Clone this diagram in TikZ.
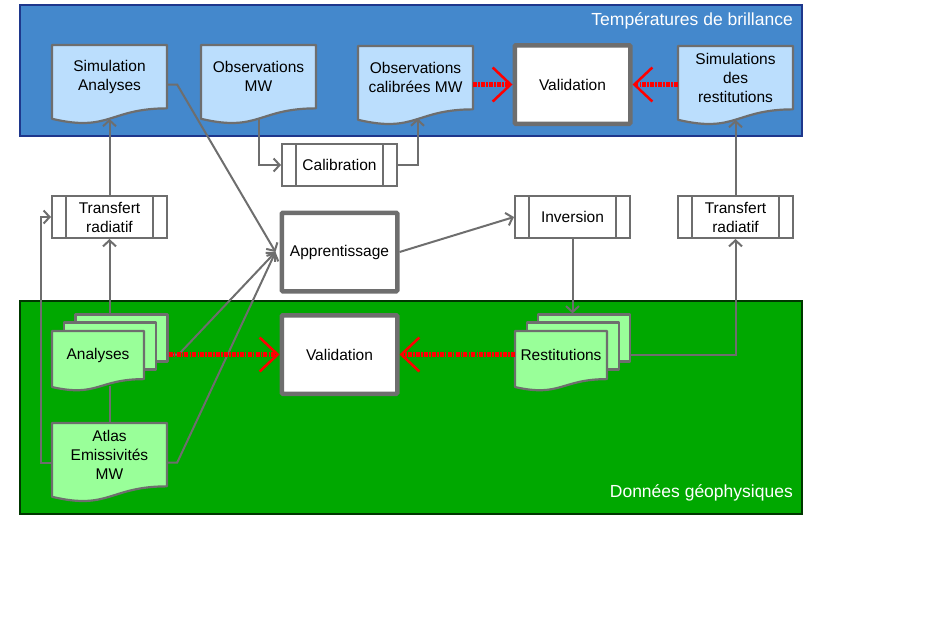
\documentclass[tikz,border=0pt]{standalone}
\usepackage{fontspec}
\setmainfont{Liberation Sans}
\usepackage{tikz}
\usetikzlibrary{positioning, arrows.meta, calc}
\definecolor{bandblue}{RGB}{68,136,204}
\definecolor{bandblueline}{RGB}{30,55,140}
\definecolor{bandgreen}{RGB}{0,168,0}
\definecolor{bandgreenline}{RGB}{0,55,0}
\definecolor{docblue}{RGB}{187,222,253}
\definecolor{docgreen}{RGB}{153,255,153}
\definecolor{linegray}{RGB}{110,110,110}
\tikzstyle{every node}=[font=\fontsize{15.5}{19}\selectfont]
\tikzstyle{band} = [rectangle, line width=2pt, minimum width=782pt]
\tikzstyle{bandtitle} = [text=white, inner sep=0pt, font=\fontsize{17.5}{21}\selectfont]
\tikzstyle{docline} = [draw=linegray, line width=2.2pt, line join=round]
\tikzstyle{doc} = [rectangle, inner sep=1pt, align=center, text centered]
\tikzstyle{page} = [rectangle, docline, fill=docgreen, minimum width=92pt, minimum height=47pt]
\tikzstyle{process} = [rectangle, draw=linegray, fill=white, line width=2pt, minimum width=115pt, minimum height=42pt, align=center,
  path picture={\draw[linegray, line width=2pt] ([xshift=14pt]path picture bounding box.north west) -- ([xshift=14pt]path picture bounding box.south west)
    ([xshift=-14pt]path picture bounding box.north east) -- ([xshift=-14pt]path picture bounding box.south east);}]
\tikzstyle{bigbox} = [rectangle, draw=linegray, fill=white, line width=4.5pt, rounded corners=1pt, minimum width=115.5pt, minimum height=78.5pt]
\tikzstyle{link} = [linegray, line width=2pt]
\tikzstyle{arrow} = [link, -{Straight Barb[length=6pt,width=13pt]}]
\tikzstyle{check} = [red, line width=4.5pt, dash pattern=on 4pt off 1.2pt on 1.5pt off 1.2pt, -{Straight Barb[length=18pt,width=34pt,line width=2.5pt]}]
% document shape: name, x, y (top), width, height, fill, text
\newcommand{\docnode}[7]{%
  \filldraw[docline, fill=#6] (#2,#3) -- ({#2+#4},#3) -- ({#2+#4},{#3+0.802*#5})
    .. controls ({#2+0.5*#4},{#3+0.802*#5}) and ({#2+0.5*#4},{#3+1.107*#5}) .. (#2,{#3+0.934*#5}) -- cycle;
  \node (#1) [doc, minimum width=#4pt, minimum height=0.8*#5pt] at ({#2+0.5*#4},{#3+0.4*#5}) {#7};}

\begin{document}
\begin{tikzpicture}[x=1pt, y=-1pt]
		\useasboundingbox (0,0) rectangle (936,625);
		%bandes
		\node (tband) [band, fill=bandblue, draw=bandblueline, minimum height=131pt] at (411,70.5) {};
		\node (gband) [band, fill=bandgreen, draw=bandgreenline, minimum height=213pt] at (411,407.5) {};
		\node (ttitle) [bandtitle, anchor=base east] at (793,25) {Températures de brillance};
		\node (gtitle) [bandtitle, anchor=base east] at (793,497) {Données géophysiques};
		
		%températures de brillance
		\docnode{sim}{52}{45}{115}{79}{docblue}{Simulation\\Analyses}
		\docnode{obs}{201}{45}{115}{79}{docblue}{Observations\\MW}
		\docnode{obscal}{358}{46}{115}{79}{docblue}{Observations\\calibrées MW}
		\docnode{simres}{678}{46}{115}{79}{docblue}{Simulations\\des\\restitutions}
		\node (valtop) [bigbox] at (572.5,84.5) {Validation};
		
		%traitements
		\node (calib) [process] at (339.5,165) {Calibration};
		\node (trl) [process] at (109.5,217) {Transfert\\radiatif};
		\node (inv) [process] at (572.5,217) {Inversion};
		\node (trr) [process] at (735.5,217) {Transfert\\radiatif};
		\node (appr) [bigbox] at (339.5,252) {Apprentissage};
		
		%données géophysiques
		\node (anaback) [page] at (121.5,338) {};
		\node (anamid) [page] at (110,346) {};
		\docnode{ana}{52}{331}{92}{60}{docgreen}{Analyses}
		\docnode{atlas}{52}{423}{115}{79}{docgreen}{Atlas\\Emissivités\\MW}
		\node (restback) [page] at (584,338) {};
		\node (restmid) [page] at (573,346) {};
		\docnode{rest}{515}{331}{92}{60}{docgreen}{Restitutions}
		\node (valbot) [bigbox] at (339.5,354.5) {Validation};
		
		%connecteurs
		\draw [arrow] (trl.north) -- ([yshift=-10.5pt]sim.south);
		\draw [arrow] (trl.south |- anaback.north) -- (trl.south);
		\draw [arrow] ([yshift=-8pt]atlas.west) -- ++(-11,0) |- (trl.west);
		\draw [link] (atlas.north) -- ++(0,-37);
		\draw [arrow] ([yshift=-8pt]sim.east) -- ++(10,0) -- ([xshift=-4pt]appr.west);
		\draw [arrow] (anaback.east |- valbot.west) -- ++(10,0) -- ([xshift=-4pt]appr.west);
		\draw [arrow] ([yshift=-8pt]atlas.east) -- ++(10,0) -- ([xshift=-4pt]appr.west);
		\draw [arrow] (appr.east) -- (inv.west);
		\draw [arrow] (inv.south) -- (inv.south |- restback.north);
		\draw [arrow] (restback.east |- rest.east) -| (trr.south);
		\draw [arrow] (trr.north) -- ([yshift=-10.5pt]simres.south);
		\draw [arrow] ([yshift=-10pt]obs.south) |- (calib.west);
		\draw [arrow] (calib.east) -| ([xshift=2pt,yshift=-9pt]obscal.south);
		
		%validations
		\draw [check] (obscal.east |- valtop.west) -- (valtop.west);
		\draw [check] (simres.west |- valtop.east) -- (valtop.east);
		\draw [check] (anaback.east |- valbot.west) -- (valbot.west);
		\draw [check] (rest.west |- valbot.east) -- (valbot.east);
		
	\end{tikzpicture}
\end{document}
